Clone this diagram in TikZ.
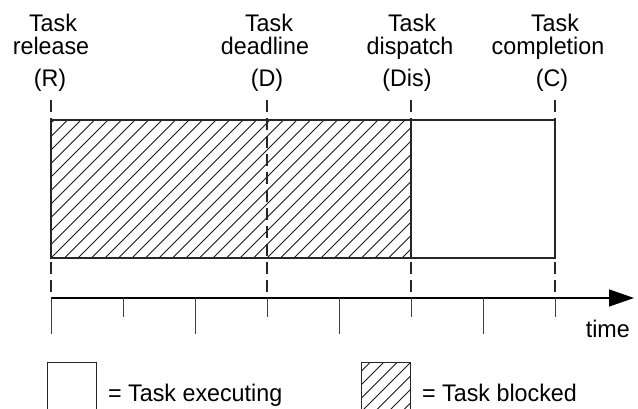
\documentclass[tikz,border=0pt]{standalone}
\usepackage{fontspec}
\setmainfont[FakeStretch=0.97]{Liberation Sans}
\usetikzlibrary{arrows.meta}
\begin{document}
\begin{tikzpicture}[x=1pt,y=-1pt,
  lbl/.style={anchor=base,inner sep=0pt,font=\fontsize{24}{28}\selectfont},
  frame/.style={line width=1.2pt,draw=black!85},
  guide/.style={line width=1.3pt,draw=black!85,dash pattern=on 12pt off 6pt},
  hatch/.style={line width=0.8pt,draw=black!90},
  tickmark/.style={line width=1pt,draw=black!75},
  axis/.style={line width=1.3pt,-{Triangle[length=25pt,width=17pt]}}]
\useasboundingbox (0,0) rectangle (638,409);

% event instants on the time line
\coordinate (Rtop) at (51,100);   \coordinate (Rbot) at (51,298);
\coordinate (Dtop) at (267,100);  \coordinate (Dbot) at (267,298);
\coordinate (Stop) at (411,100);  \coordinate (Sbot) at (411,298);
\coordinate (Ctop) at (555,100);  \coordinate (Cbot) at (555,298);

% labels above each instant
\node[lbl] (rT) at (53,32) {Task};
\node[lbl] (rL) at (51,55) {release};
\node[lbl] (rA) at (50,87) {(R)};
\node[lbl] (dT) at (269,32) {Task};
\node[lbl] (dL) at (265,55) {deadline};
\node[lbl] (dA) at (267,87) {(D)};
\node[lbl] (sT) at (412,32) {Task};
\node[lbl] (sL) at (410,55) {dispatch};
\node[lbl] (sA) at (407,87) {(Dis)};
\node[lbl] (cT) at (555,32) {Task};
\node[lbl] (cL) at (548,55) {completion};
\node[lbl] (cA) at (552,87) {(C)};

% blocked interval: hatched
\begin{scope}
  \clip (51,120) rectangle (411,258);
  \foreach \k in {-10,...,28}
    \draw[hatch] (51+13.5*\k,258) -- ++(138,-138);
\end{scope}

% dashed guide lines
\foreach \p in {R,D,S,C}
  \draw[guide] (\p top) -- (\p bot);

% interval outlines
\coordinate (boxTL) at (51,120);
\coordinate (boxMB) at (411,258);
\coordinate (boxMT) at (411,120);
\coordinate (boxBR) at (555,258);
\draw[frame] (boxTL) rectangle (boxMB);
\draw[frame] (boxMT) rectangle (boxBR);

% time axis
\coordinate (axEnd) at (634,298);
\draw[axis] (Rbot) -- (axEnd);
\foreach \i in {0,2,4,6}
  \draw[tickmark] (51+72*\i,298) -- (51+72*\i,334);
\foreach \i in {1,3,5,7}
  \draw[tickmark] (51+72*\i,298) -- (51+72*\i,317);
\node[lbl,anchor=base east] (time) at (630,337) {time};

% legend
\draw[frame,line width=1pt] (47,412) -- (47,362) -- (96,362) -- (96,412);
\node[lbl,anchor=base west] (legExec) at (108,401) {= Task executing};
\begin{scope}
  \clip (361,362) rectangle (410,412);
  \foreach \k in {-5,...,5}
    \draw[hatch] (361+13.5*\k,412) -- ++(60,-60);
\end{scope}
\draw[frame,line width=1pt] (361,412) -- (361,362) -- (410,362) -- (410,412);
\node[lbl,anchor=base west] (legBlock) at (422,401) {= Task blocked};
\end{tikzpicture}
\end{document}
